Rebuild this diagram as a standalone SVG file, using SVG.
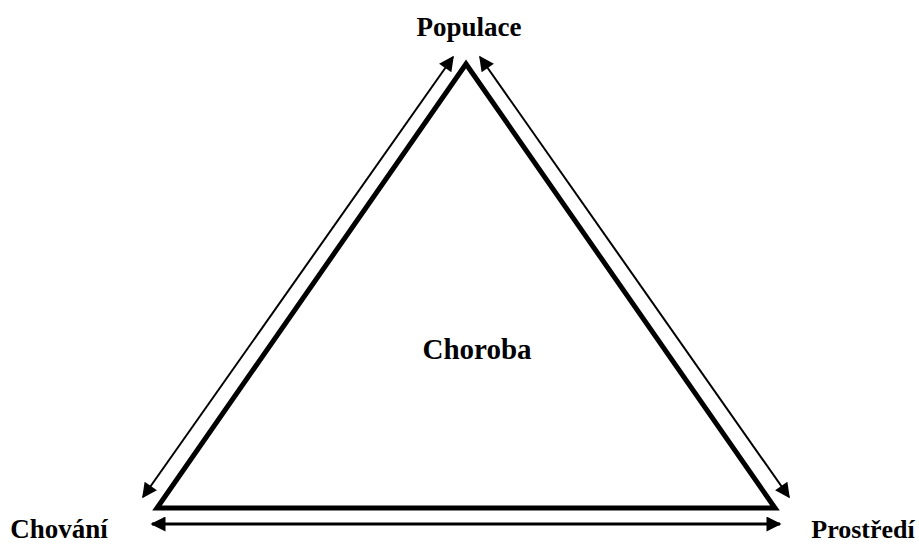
<svg xmlns="http://www.w3.org/2000/svg" width="919" height="545" viewBox="0 0 919 545">
<style>
text{font-family:"Liberation Serif","Times New Roman",serif;font-weight:bold;font-size:27px;fill:#000}
.tri{fill:none;stroke:#000;stroke-width:5;stroke-linejoin:miter}
.arr{stroke:#000;stroke-width:2;fill:none}
.arrb{stroke:#000;stroke-width:3;fill:none}
</style>
<defs>
<marker id="ahb" viewBox="0 0 10 10" refX="9" refY="5" markerWidth="18" markerHeight="15" markerUnits="userSpaceOnUse" orient="auto-start-reverse">
<path d="M0,0 L10,5 L0,10 z" fill="#000"/>
</marker>
</defs>
<g id="triangle">
<polygon class="tri" points="466,64 157,508 775,508"/>
</g>
<g id="connectors">
<line class="arr" x1="143" y1="497" x2="453" y2="57" marker-start="url(#ahb)" marker-end="url(#ahb)"/>
<line class="arr" x1="480" y1="57" x2="789" y2="497" marker-start="url(#ahb)" marker-end="url(#ahb)"/>
<line class="arrb" x1="152" y1="524" x2="780" y2="524" marker-start="url(#ahb)" marker-end="url(#ahb)"/>
</g>
<g id="populace"><text x="469" y="36" text-anchor="middle">Populace</text></g>
<g id="choroba"><text x="477" y="359" text-anchor="middle" style="font-size:29px">Choroba</text></g>
<g id="chovani"><text x="59" y="538" text-anchor="middle">Chování</text></g>
<g id="prostredi"><text x="863" y="538" text-anchor="middle" style="font-size:26px">Prostředí</text></g>
</svg>
